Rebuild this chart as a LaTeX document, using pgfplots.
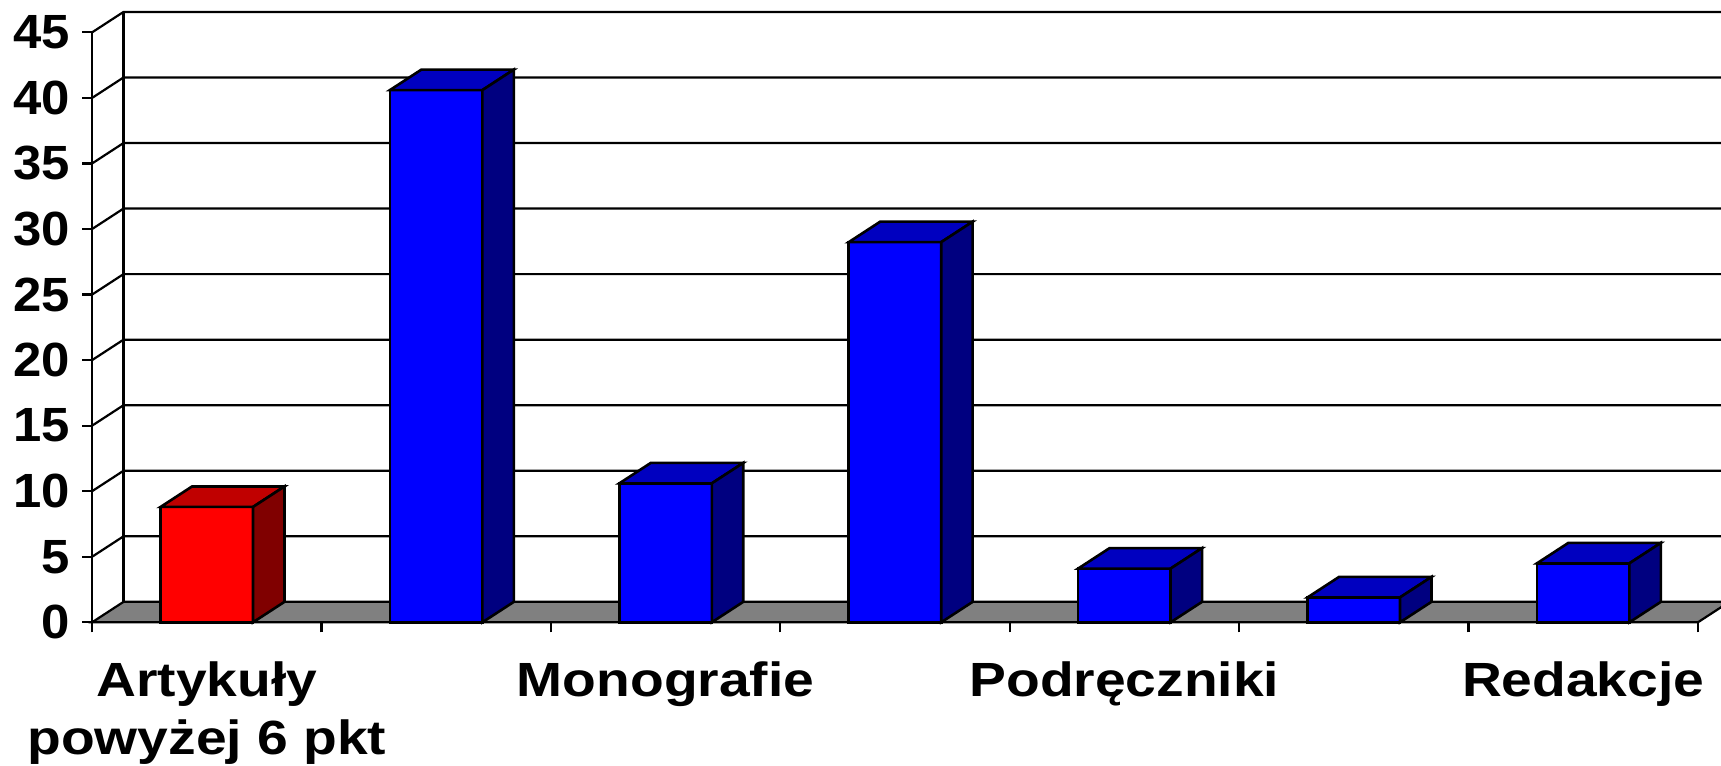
\documentclass[border=0pt]{standalone}
\usepackage{fontspec}
\setmainfont{Liberation Sans}[FakeStretch=1.15]
\newfontfamily\tickfont{Liberation Sans}[FakeStretch=1.06]
\usepackage{pgfplots}
\pgfplotsset{compat=1.18}
\definecolor{redfront}{HTML}{FF0000}
\definecolor{redtop}{HTML}{C00000}
\definecolor{redside}{HTML}{800000}
\definecolor{bluefront}{HTML}{0000FF}
\definecolor{bluetop}{HTML}{0000C0}
\definecolor{blueside}{HTML}{000080}
\definecolor{floorgray}{HTML}{808080}
\begin{document}
\begin{tikzpicture}
\begin{axis}[
  scale only axis,
  width=814.45pt, height=311.15pt,
  xmin=0.5, xmax=7.6007, ymin=0, ymax=47.47,
  clip=false,
  axis line style={draw=none},
  tick align=outside,
  major tick length=5pt,
  tick style={black, line width=1.1pt},
  ytick={0,5,...,45},
  ytick pos=left,
  xtick={0.5,1.5,...,7.5},
  xticklabels={,,,,,,,},
  xtick pos=bottom,
  extra x ticks={1,3,5,7},
  extra x tick labels={{Artykuły\\powyżej 6 pkt},Monografie,Podręczniki,Redakcje},
  extra x tick style={major tick length=0pt},
  /pgf/number format/assume math mode=true,
  yticklabel style={font=\tickfont\bfseries\fontsize{24}{28}\selectfont, xshift=-2.5pt},
  xticklabel style={font=\bfseries\fontsize{24}{29}\selectfont, align=center, yshift=-16pt},
]
% back wall gridlines with left-wall diagonals
\addplot[black, line width=1.1pt] coordinates {(0.5,5) (0.637,6.56) (7.637,6.56)};
\addplot[black, line width=1.1pt] coordinates {(0.5,10) (0.637,11.56) (7.637,11.56)};
\addplot[black, line width=1.1pt] coordinates {(0.5,15) (0.637,16.56) (7.637,16.56)};
\addplot[black, line width=1.1pt] coordinates {(0.5,20) (0.637,21.56) (7.637,21.56)};
\addplot[black, line width=1.1pt] coordinates {(0.5,25) (0.637,26.56) (7.637,26.56)};
\addplot[black, line width=1.1pt] coordinates {(0.5,30) (0.637,31.56) (7.637,31.56)};
\addplot[black, line width=1.1pt] coordinates {(0.5,35) (0.637,36.56) (7.637,36.56)};
\addplot[black, line width=1.1pt] coordinates {(0.5,40) (0.637,41.56) (7.637,41.56)};
\addplot[black, line width=1.1pt] coordinates {(0.5,45) (0.637,46.56) (7.637,46.56)};
\addplot[black, line width=1.1pt] coordinates {(0.637,1.56) (0.637,46.56)};
% floor
\addplot[fill=floorgray, draw=black, line width=1.1pt] coordinates {(0.5,0) (7.5,0) (7.637,1.56) (0.637,1.56)} --cycle;
% front value axis
\addplot[black, line width=1.1pt] coordinates {(0.5,0) (0.5,45)};
% bars: front faces
\addplot[ybar, bar width=0.403, bar shift=0pt, fill=redfront, draw=black, line width=1.3pt] coordinates {(1,8.8)};
\addplot[ybar, bar width=0.403, bar shift=0pt, fill=bluefront, draw=black, line width=1.3pt] coordinates {(2,40.6) (3,10.6) (4,29.0) (5,4.1) (6,1.9) (7,4.5)};
% bars: top faces
\addplot[fill=redtop, draw=black, line width=1.3pt] coordinates {(0.7985,8.8) (1.2015,8.8) (1.3385,10.36) (0.9355,10.36)} --cycle;
\addplot[fill=bluetop, draw=black, line width=1.3pt] coordinates {(1.7985,40.6) (2.2015,40.6) (2.3385,42.16) (1.9355,42.16)} --cycle;
\addplot[fill=bluetop, draw=black, line width=1.3pt] coordinates {(2.7985,10.6) (3.2015,10.6) (3.3385,12.16) (2.9355,12.16)} --cycle;
\addplot[fill=bluetop, draw=black, line width=1.3pt] coordinates {(3.7985,29.0) (4.2015,29.0) (4.3385,30.56) (3.9355,30.56)} --cycle;
\addplot[fill=bluetop, draw=black, line width=1.3pt] coordinates {(4.7985,4.1) (5.2015,4.1) (5.3385,5.66) (4.9355,5.66)} --cycle;
\addplot[fill=bluetop, draw=black, line width=1.3pt] coordinates {(5.7985,1.9) (6.2015,1.9) (6.3385,3.46) (5.9355,3.46)} --cycle;
\addplot[fill=bluetop, draw=black, line width=1.3pt] coordinates {(6.7985,4.5) (7.2015,4.5) (7.3385,6.06) (6.9355,6.06)} --cycle;
% bars: side faces
\addplot[fill=redside, draw=black, line width=1.3pt] coordinates {(1.2015,0) (1.3385,1.56) (1.3385,10.36) (1.2015,8.8)} --cycle;
\addplot[fill=blueside, draw=black, line width=1.3pt] coordinates {(2.2015,0) (2.3385,1.56) (2.3385,42.16) (2.2015,40.6)} --cycle;
\addplot[fill=blueside, draw=black, line width=1.3pt] coordinates {(3.2015,0) (3.3385,1.56) (3.3385,12.16) (3.2015,10.6)} --cycle;
\addplot[fill=blueside, draw=black, line width=1.3pt] coordinates {(4.2015,0) (4.3385,1.56) (4.3385,30.56) (4.2015,29.0)} --cycle;
\addplot[fill=blueside, draw=black, line width=1.3pt] coordinates {(5.2015,0) (5.3385,1.56) (5.3385,5.66) (5.2015,4.1)} --cycle;
\addplot[fill=blueside, draw=black, line width=1.3pt] coordinates {(6.2015,0) (6.3385,1.56) (6.3385,3.46) (6.2015,1.9)} --cycle;
\addplot[fill=blueside, draw=black, line width=1.3pt] coordinates {(7.2015,0) (7.3385,1.56) (7.3385,6.06) (7.2015,4.5)} --cycle;
\end{axis}
\pgfresetboundingbox
\path ([xshift=-46.05pt,yshift=-71.85pt]current axis.south west) rectangle (current axis.north east);
\end{tikzpicture}
\end{document}
